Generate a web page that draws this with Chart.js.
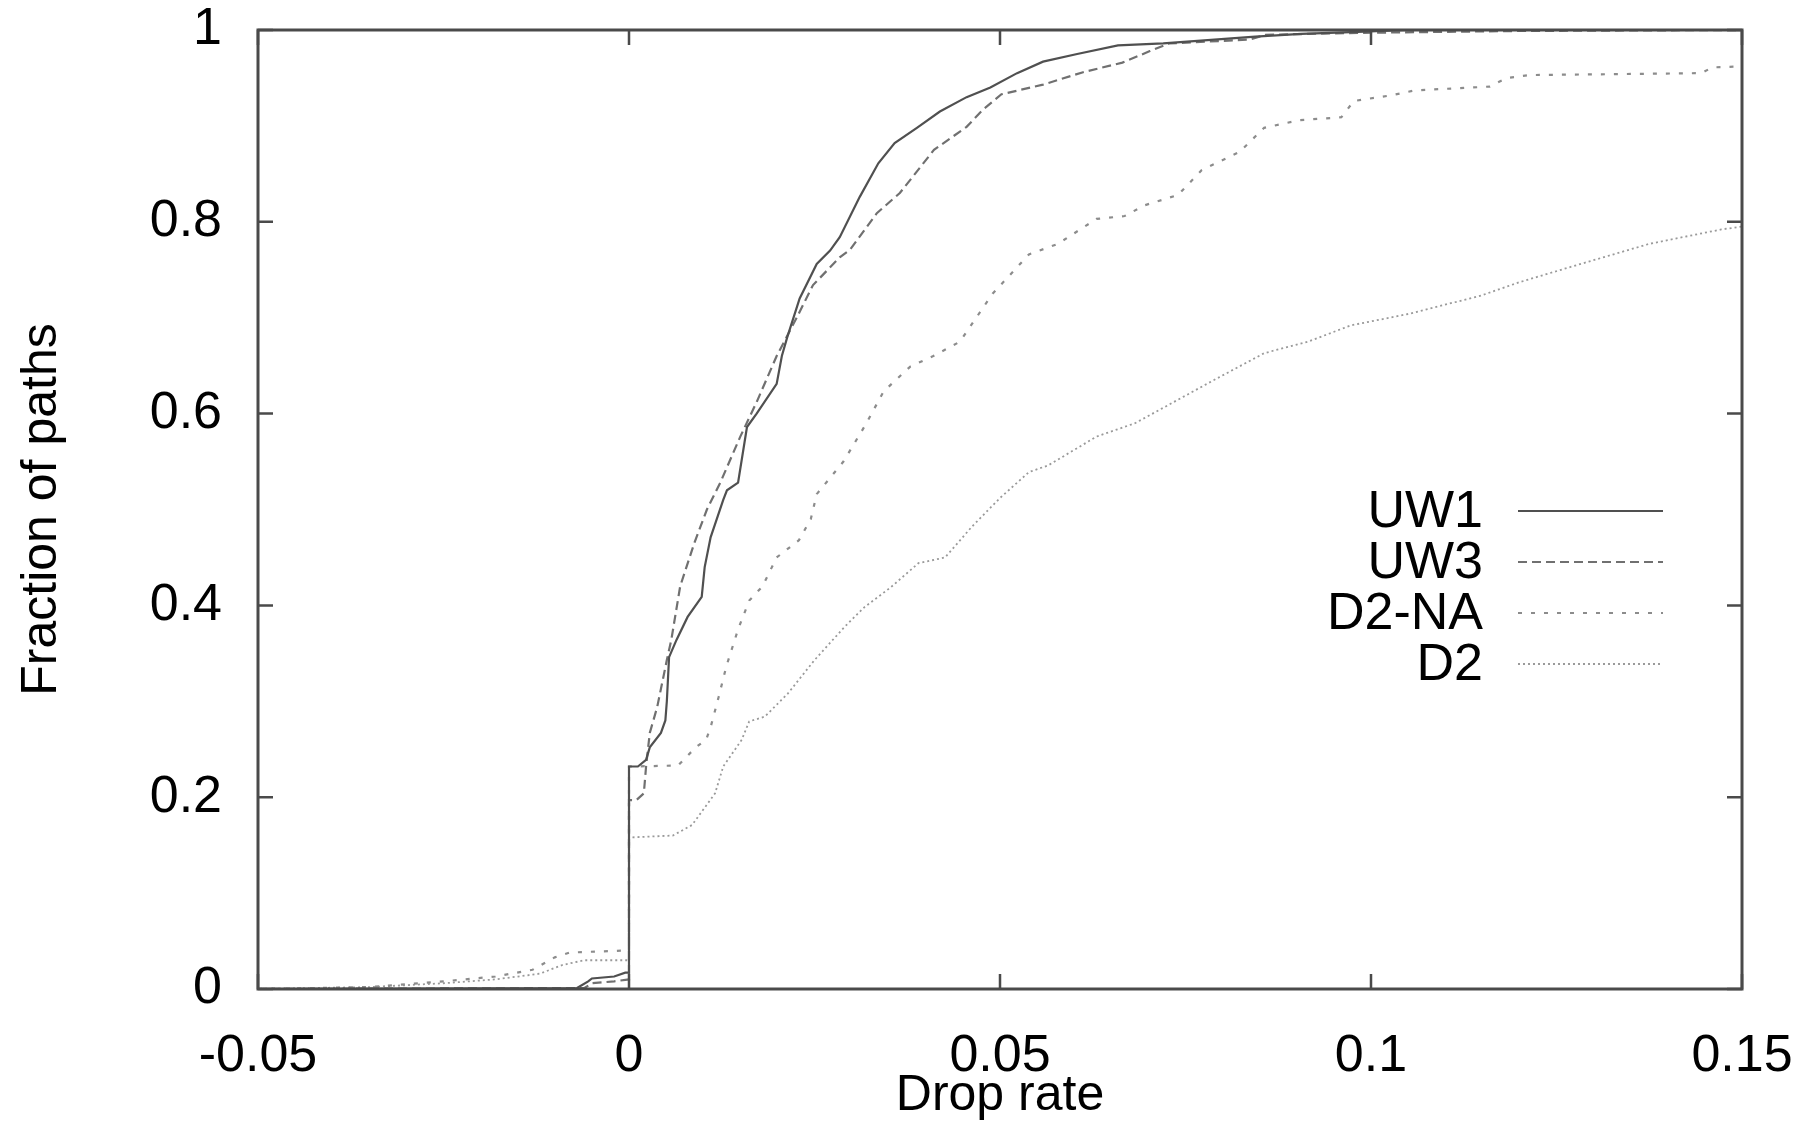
<!DOCTYPE html>
<html>
<head>
<meta charset="utf-8">
<script src="https://cdn.jsdelivr.net/npm/chart.js@4.4.0/dist/chart.umd.min.js"></script>
<style>
  html, body { margin: 0; padding: 0; background: #fff; }
</style>
</head>
<body>
<canvas id="cdfChart" width="1808" height="1122"></canvas>
<script>
// tick values and their labels
const xTickValues = [-0.05, 0, 0.05, 0.1, 0.15];
const xTickLabels = ['-0.05', '0', '0.05', '0.1', '0.15'];
const yTickValues = [0, 0.2, 0.4, 0.6, 0.8, 1];
const yTickLabels = ['0', '0.2', '0.4', '0.6', '0.8', '1'];

// CDF curves (drop rate -> fraction of paths)
const uw1X = [-0.05, -0.007, -0.0055, -0.005, -0.002, -0.0005, 0, 0, 0.0012, 0.0023, 0.0028, 0.0043, 0.0049, 0.0051, 0.0054,
  0.0064, 0.0079, 0.0098, 0.0102, 0.011, 0.0127, 0.0132, 0.0147, 0.0159, 0.0172, 0.0199, 0.0206, 0.0213, 0.023, 0.0253,
  0.0271, 0.0284, 0.0311, 0.0336, 0.0358, 0.0388, 0.0419, 0.0455, 0.0487, 0.0523, 0.0558, 0.0604, 0.0659, 0.072, 0.0844,
  0.0906, 0.0982, 0.105, 0.15];
const uw1Y = [0, 0.001, 0.008, 0.011, 0.013, 0.017, 0.017, 0.232, 0.232, 0.239, 0.252, 0.267, 0.28, 0.30, 0.346,
  0.364, 0.388, 0.409, 0.44, 0.471, 0.51, 0.52, 0.528, 0.586, 0.60, 0.631, 0.66, 0.679, 0.72, 0.756,
  0.77, 0.784, 0.826, 0.861, 0.882, 0.898, 0.915, 0.93, 0.94, 0.955, 0.967, 0.975, 0.984, 0.986, 0.993,
  0.996, 0.998, 1, 1];

const uw3X = [-0.05, -0.006, -0.005, -0.002, 0, 0, 0.001, 0.002, 0.0023, 0.0028, 0.0038, 0.0051, 0.0057, 0.0069, 0.0088,
  0.0105, 0.0123, 0.015, 0.0172, 0.0199, 0.0226, 0.0248, 0.0284, 0.0298, 0.0334, 0.0365, 0.0411, 0.0455, 0.0477, 0.0502,
  0.0558, 0.0612, 0.0665, 0.0702, 0.0728, 0.0836, 0.0858, 0.0982, 0.12, 0.15];
const uw3Y = [0, 0.001, 0.006, 0.008, 0.01, 0.197, 0.197, 0.204, 0.232, 0.267, 0.294, 0.343, 0.364, 0.42, 0.465,
  0.50, 0.528, 0.576, 0.612, 0.66, 0.70, 0.734, 0.763, 0.771, 0.809, 0.83, 0.875, 0.899, 0.917, 0.933,
  0.943, 0.956, 0.966, 0.978, 0.986, 0.99, 0.995, 0.997, 0.999, 1];

const d2naX = [-0.05, -0.035, -0.025, -0.018, -0.013, -0.01, -0.008, -0.001, 0, 0, 0.0066, 0.009, 0.0104, 0.011, 0.0121,
  0.0131, 0.0147, 0.0162, 0.018, 0.0199, 0.0229, 0.0245, 0.0253, 0.0289, 0.032, 0.0343, 0.0379, 0.041, 0.0446, 0.049,
  0.0539, 0.0578, 0.063, 0.0668, 0.0694, 0.074, 0.0772, 0.0823, 0.0856, 0.0904, 0.096, 0.0977, 0.1028, 0.1059, 0.116,
  0.1183, 0.1214, 0.1445, 0.146, 0.15];
const d2naY = [0, 0.002, 0.008, 0.013, 0.02, 0.033, 0.038, 0.04, 0.04, 0.232, 0.233, 0.252, 0.26, 0.273, 0.305,
  0.336, 0.375, 0.405, 0.42, 0.45, 0.468, 0.49, 0.516, 0.55, 0.59, 0.623, 0.649, 0.66, 0.675, 0.725,
  0.766, 0.777, 0.803, 0.806, 0.817, 0.828, 0.854, 0.873, 0.898, 0.906, 0.909, 0.926, 0.932, 0.937, 0.941,
  0.95, 0.953, 0.955, 0.961, 0.962];

const d2X = [-0.05, -0.035, -0.025, -0.018, -0.012, -0.009, -0.006, 0, 0, 0.0059, 0.0085, 0.0116, 0.0127, 0.0152, 0.0162,
  0.0183, 0.0214, 0.025, 0.0291, 0.0317, 0.0353, 0.039, 0.0426, 0.0462, 0.05, 0.0539, 0.0565, 0.063, 0.0682, 0.0727,
  0.0786, 0.0856, 0.0915, 0.0973, 0.1051, 0.1148, 0.12, 0.1278, 0.1375, 0.1472, 0.15];
const d2Y = [0, 0.002, 0.006, 0.01, 0.016, 0.025, 0.03, 0.03, 0.158, 0.16, 0.171, 0.204, 0.232, 0.26, 0.279,
  0.284, 0.308, 0.343, 0.378, 0.398, 0.419, 0.444, 0.45, 0.482, 0.512, 0.539, 0.546, 0.576, 0.59, 0.609,
  0.634, 0.663, 0.675, 0.692, 0.704, 0.723, 0.737, 0.755, 0.777, 0.792, 0.795];

const seriesNames = ['UW1', 'UW3', 'D2-NA', 'D2'];

const toPoints = (xs, ys) => xs.map((x, i) => ({ x: x, y: ys[i] }));

const FONT = "'Liberation Sans', Arial, Helvetica, sans-serif";

// frame with inward ticks on all sides, plus the gnuplot style key
const frameAndKey = {
  id: 'frameAndKey',
  afterDatasetsDraw(chart) {
    const { ctx, chartArea: a, scales } = chart;
    ctx.save();
    ctx.strokeStyle = '#4a4a4a';
    ctx.lineWidth = 3;
    ctx.strokeRect(a.left, a.top, a.right - a.left, a.bottom - a.top);

    ctx.lineWidth = 2.5;
    ctx.beginPath();
    xTickValues.forEach(v => {
      const px = scales.x.getPixelForValue(v);
      ctx.moveTo(px, a.bottom); ctx.lineTo(px, a.bottom - 15);
      ctx.moveTo(px, a.top); ctx.lineTo(px, a.top + 15);
    });
    yTickValues.forEach(v => {
      const py = scales.y.getPixelForValue(v);
      ctx.moveTo(a.left, py); ctx.lineTo(a.left + 15, py);
      ctx.moveTo(a.right, py); ctx.lineTo(a.right - 15, py);
    });
    ctx.stroke();

    // key
    ctx.font = '52px ' + FONT;
    ctx.textAlign = 'right';
    ctx.textBaseline = 'middle';
    chart.data.datasets.forEach((ds, i) => {
      const rowY = 511 + i * 51;
      ctx.fillStyle = '#000';
      ctx.fillText(ds.label, 1483, rowY + 2);
      ctx.strokeStyle = ds.borderColor;
      ctx.lineWidth = ds.borderWidth;
      ctx.setLineDash(ds.borderDash || []);
      ctx.beginPath();
      ctx.moveTo(1518, rowY);
      ctx.lineTo(1663, rowY);
      ctx.stroke();
    });
    ctx.restore();
  }
};

const ctx = document.getElementById('cdfChart').getContext('2d');

const myChart = new Chart(ctx, {
  type: 'line',
  data: {
    datasets: [
      { label: seriesNames[0], data: toPoints(uw1X, uw1Y), borderColor: '#505050', borderWidth: 2.2, borderDash: [] },
      { label: seriesNames[1], data: toPoints(uw3X, uw3Y), borderColor: '#707070', borderWidth: 2.2, borderDash: [9, 5] },
      { label: seriesNames[2], data: toPoints(d2naX, d2naY), borderColor: '#8c8c8c', borderWidth: 2.2, borderDash: [4, 9] },
      { label: seriesNames[3], data: toPoints(d2X, d2Y), borderColor: '#9a9a9a', borderWidth: 1.8, borderDash: [2, 3] }
    ]
  },
  options: {
    responsive: false,
    animation: false,
    events: [],
    layout: { padding: { left: 0, top: 30, right: 66, bottom: 0 } },
    elements: {
      point: { radius: 0 },
      line: { tension: 0, fill: false }
    },
    plugins: {
      legend: { display: false },
      tooltip: { enabled: false }
    },
    scales: {
      x: {
        type: 'linear',
        min: -0.05,
        max: 0.15,
        grid: { display: false, drawTicks: false },
        border: { display: false },
        afterBuildTicks: scale => { scale.ticks = xTickValues.map(v => ({ value: v })); },
        afterFit: scale => { scale.height = 133; scale.paddingLeft = 0; scale.paddingRight = 0; },
        ticks: {
          padding: 36,
          color: '#000',
          font: { family: FONT, size: 52 },
          maxRotation: 0,
          callback: (value, index) => xTickLabels[index]
        },
        title: {
          display: true,
          text: 'Drop rate',
          color: '#000',
          font: { family: FONT, size: 50 },
          padding: { top: 0, bottom: -4 }
        }
      },
      y: {
        type: 'linear',
        min: 0,
        max: 1,
        grid: { display: false, drawTicks: false },
        border: { display: false },
        afterBuildTicks: scale => { scale.ticks = yTickValues.map(v => ({ value: v })); },
        afterFit: scale => { scale.width = 258; scale.paddingTop = 0; scale.paddingBottom = 0; },
        ticks: {
          padding: 36,
          color: '#000',
          font: { family: FONT, size: 52 },
          callback: (value, index) => yTickLabels[index]
        },
        title: {
          display: true,
          text: 'Fraction of paths',
          color: '#000',
          font: { family: FONT, size: 50 },
          padding: { top: 12, bottom: 0 }
        }
      }
    }
  },
  plugins: [frameAndKey]
});
</script>
</body>
</html>
